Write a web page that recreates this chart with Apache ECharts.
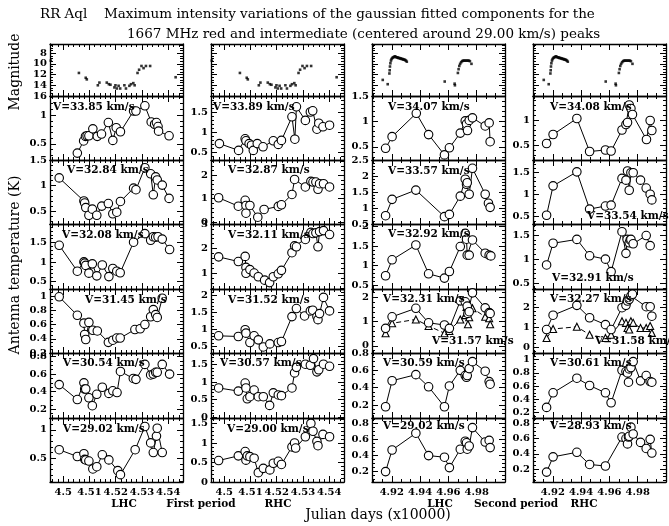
<!DOCTYPE html>
<html>
<head>
<meta charset="utf-8">
<script src="https://cdn.jsdelivr.net/npm/echarts@6/dist/echarts.min.js"></script>
<style>
  html, body { margin: 0; padding: 0; background: #fff; }
  #chart { width: 669px; height: 526px; }
</style>
</head>
<body>
<div id="chart"></div>
<script>
// ---- Tick labels ----
const firstPeriodTicks = [4.5, 4.51, 4.52, 4.53, 4.54];
const secondPeriodTicks = [4.92, 4.94, 4.96, 4.98];
const magTicks = [8, 10, 12, 14, 16];

// ---- Visual light curve (magnitude vs JD/10000) ----
const magFirst = [[4.4953,9.4],[4.506,11.7],[4.5086,12.6],[4.509,12.9],[4.5132,14.0],[4.5138,13.5],[4.5166,13.5],[4.5174,13.8],[4.518,13.9],[4.5195,14.4],[4.5199,14.0],[4.5204,14.6],[4.5211,14.1],[4.5217,14.6],[4.5233,14.0],[4.5239,14.6],[4.5252,14.1],[4.5258,13.8],[4.5267,13.6],[4.5272,14.0],[4.5283,11.7],[4.5289,11.1],[4.5298,10.4],[4.5306,10.8],[4.5315,10.4],[4.5331,10.4],[4.5428,12.5]];
const magSecond = [[4.9136,13.0],[4.9171,13.8],[4.9183,11.8],[4.9185,11.2],[4.9187,10.5],[4.919,9.9],[4.9194,9.4],[4.9198,9.1],[4.9204,8.9],[4.921,8.8],[4.9216,8.7],[4.9222,8.6],[4.9228,8.7],[4.9234,8.8],[4.924,8.8],[4.9246,8.9],[4.9252,8.9],[4.9258,9.0],[4.9264,9.0],[4.927,9.1],[4.9276,9.1],[4.9282,9.2],[4.9288,9.2],[4.9294,9.3],[4.93,9.4],[4.9306,9.6],[4.9574,13.3],[4.9644,13.7],[4.9646,14.0],[4.9667,11.7],[4.9672,11.0],[4.9677,10.4],[4.9683,10.0],[4.969,9.7],[4.9697,9.5],[4.9704,9.4],[4.9712,9.4],[4.972,9.4],[4.9728,9.4],[4.9736,9.4],[4.9744,9.4],[4.9752,9.5],[4.9763,10.0]];

// ---- Antenna temperature (K) of each gaussian component ----
const firstLhc_3385 = [[4.5054,0.34],[4.5078,0.55],[4.5085,0.63],[4.5091,0.64],[4.5098,0.64],[4.5113,0.76],[4.513,0.63],[4.5146,0.67],[4.5172,0.87],[4.5189,0.56],[4.5202,0.78],[4.5218,0.71],[4.5268,1.07],[4.5277,1.07],[4.5311,1.16],[4.5335,0.88],[4.5348,0.84],[4.5355,0.87],[4.5361,0.80],[4.5363,0.72],[4.5403,0.64]];
const firstRhc_3389 = [[4.4982,0.71],[4.5055,0.54],[4.508,0.83],[4.5083,0.78],[4.5095,0.71],[4.5104,0.67],[4.5111,0.54],[4.5126,0.71],[4.5148,0.63],[4.5187,0.78],[4.5206,0.69],[4.5218,0.79],[4.5258,1.38],[4.5269,0.82],[4.5275,1.63],[4.5309,1.29],[4.5328,1.50],[4.5337,1.53],[4.5353,1.07],[4.536,1.22],[4.5376,1.13],[4.5401,1.17]];
const secondLhc_3407 = [[4.9156,0.47],[4.9202,0.70],[4.9373,1.16],[4.946,0.74],[4.9572,0.34],[4.9607,0.48],[4.9684,0.77],[4.9719,1.01],[4.9728,0.95],[4.9735,0.82],[4.9747,1.02],[4.977,1.07],[4.986,0.91],[4.9888,0.97],[4.9895,0.60]];
const secondRhc_3408 = [[4.9156,0.53],[4.9202,0.71],[4.937,1.03],[4.946,0.37],[4.9572,0.40],[4.9612,0.38],[4.9689,0.80],[4.9717,0.91],[4.9728,0.95],[4.974,1.30],[4.9752,1.23],[4.9763,1.11],[4.9862,0.61],[4.9888,0.99],[4.99,0.79]];

const firstLhc_3284 = [[4.4985,1.15],[4.5079,0.70],[4.5082,0.66],[4.5086,0.57],[4.5098,0.42],[4.5111,0.54],[4.5128,0.42],[4.5147,0.60],[4.5172,0.65],[4.5189,0.45],[4.5204,0.48],[4.5218,0.69],[4.5268,0.95],[4.5277,0.92],[4.5311,1.35],[4.5333,1.23],[4.5343,0.82],[4.5352,1.17],[4.5358,1.11],[4.5377,1.01],[4.5403,0.75]];
const firstRhc_3287 = [[4.4979,1.04],[4.5054,0.68],[4.508,0.93],[4.5083,0.71],[4.5083,0.38],[4.5098,0.71],[4.5128,0.21],[4.5152,0.54],[4.5206,0.67],[4.5218,0.74],[4.5258,1.18],[4.5268,1.82],[4.5309,1.50],[4.533,1.74],[4.5338,1.71],[4.5349,1.71],[4.5357,1.40],[4.5363,1.64],[4.5378,1.64],[4.5401,1.50]];
const secondLhc_3357 = [[4.9156,0.76],[4.9202,1.27],[4.937,1.56],[4.9572,0.73],[4.9607,0.80],[4.9684,1.37],[4.9719,1.90],[4.9728,1.74],[4.9733,1.79],[4.9747,1.43],[4.977,2.24],[4.986,1.43],[4.9883,1.15],[4.9895,1.02]];
const secondRhc_3354 = [[4.9156,0.53],[4.9202,1.20],[4.937,1.52],[4.946,0.67],[4.9572,0.74],[4.9612,0.76],[4.9689,1.37],[4.9717,1.33],[4.9728,1.54],[4.974,1.10],[4.9752,1.50],[4.9768,1.50],[4.982,1.33],[4.986,1.15],[4.9888,1.01],[4.99,0.88]];

const firstLhc_3208 = [[4.4985,1.43],[4.5054,0.76],[4.5079,1.0],[4.5082,0.97],[4.5086,0.91],[4.5098,0.71],[4.5111,0.95],[4.5128,0.64],[4.5149,0.92],[4.5174,0.62],[4.5189,0.83],[4.5204,0.76],[4.5217,0.72],[4.5268,1.51],[4.5311,1.73],[4.5333,1.56],[4.5343,1.65],[4.5352,1.64],[4.5361,1.65],[4.5377,1.59],[4.5405,1.32]];
const firstRhc_3211 = [[4.4979,1.66],[4.5054,1.47],[4.508,1.68],[4.5083,1.23],[4.5083,0.99],[4.5098,1.14],[4.5114,1.0],[4.513,0.85],[4.5154,0.71],[4.5173,0.61],[4.5187,0.85],[4.5206,0.97],[4.5218,1.11],[4.5258,1.83],[4.5268,2.11],[4.5275,2.07],[4.5309,2.37],[4.533,2.66],[4.5338,2.61],[4.5349,2.64],[4.5357,2.07],[4.5363,2.69],[4.5378,2.73],[4.5401,2.57]];
const secondLhc_3292 = [[4.9156,0.74],[4.9202,1.15],[4.937,1.53],[4.946,0.79],[4.9572,0.68],[4.9607,0.85],[4.9684,1.49],[4.9719,1.83],[4.9728,1.68],[4.9733,1.27],[4.9747,1.27],[4.977,1.66],[4.986,1.32],[4.9888,1.27],[4.99,1.25]];
const secondRhc_3291 = [[4.9156,0.88],[4.9202,1.33],[4.937,1.41],[4.946,1.07],[4.9572,1.0],[4.9612,0.74],[4.9689,1.57],[4.9717,1.12],[4.9725,1.41],[4.974,1.34],[4.9747,1.40],[4.9752,1.41],[4.9768,1.32],[4.986,1.49],[4.9888,1.28]];

const firstLhc_3145 = [[4.4985,0.99],[4.5054,0.73],[4.5079,0.62],[4.5082,0.46],[4.5086,0.39],[4.5098,0.63],[4.5113,0.52],[4.513,0.51],[4.5172,0.35],[4.5189,0.38],[4.5204,0.41],[4.5217,0.41],[4.5273,0.53],[4.5293,0.54],[4.5311,0.60],[4.5333,0.71],[4.5343,0.81],[4.5352,0.74],[4.5358,0.70],[4.5377,0.97]];
const firstRhc_3152 = [[4.4979,0.81],[4.5054,0.79],[4.508,0.99],[4.5083,0.89],[4.5098,0.61],[4.5114,0.81],[4.513,0.69],[4.5149,0.48],[4.5174,0.57],[4.5206,0.61],[4.5218,0.64],[4.5258,1.38],[4.5275,1.62],[4.5306,1.40],[4.5328,1.55],[4.5337,1.57],[4.5353,1.38],[4.5357,1.29],[4.5363,1.47],[4.5378,1.95],[4.5401,1.55]];
const secondLhc_3231 = [[4.9156,0.72],[4.9202,1.20],[4.937,1.55],[4.946,0.95],[4.9572,0.86],[4.9607,0.72],[4.9684,1.86],[4.9719,1.82],[4.9733,1.64],[4.9738,1.34],[4.9747,1.41],[4.977,2.19],[4.986,1.57],[4.9888,1.37],[4.9895,1.34]];
const secondLhc_3157 = [[4.9156,0.52],[4.9202,0.93],[4.937,1.09],[4.946,0.82],[4.9572,0.52],[4.9607,0.61],[4.9684,1.09],[4.9719,1.27],[4.9728,1.61],[4.9733,1.37],[4.9738,0.89],[4.9747,1.18],[4.977,1.55],[4.986,1.20],[4.9888,1.14],[4.9895,0.89]];
const secondRhc_3227 = [[4.9156,0.89],[4.9202,1.62],[4.937,2.12],[4.946,1.49],[4.9572,1.14],[4.9612,0.89],[4.9689,2.0],[4.9717,2.12],[4.9728,2.34],[4.974,2.43],[4.9752,2.6],[4.9763,2.68],[4.986,2.05],[4.9888,2.05],[4.99,1.57]];
const secondRhc_3158 = [[4.9156,0.46],[4.9202,0.92],[4.937,1.03],[4.946,0.63],[4.9572,0.46],[4.9612,0.63],[4.9689,1.31],[4.9717,1.23],[4.9728,0.97],[4.974,0.89],[4.9752,1.31],[4.9768,1.23],[4.982,0.97],[4.986,0.97],[4.9888,1.07],[4.99,0.72]];

const firstLhc_3054 = [[4.4985,0.48],[4.5054,0.31],[4.5079,0.50],[4.5082,0.43],[4.5086,0.43],[4.5098,0.33],[4.5111,0.24],[4.5128,0.37],[4.5149,0.45],[4.5174,0.38],[4.5189,0.41],[4.5205,0.39],[4.5218,0.63],[4.5267,0.55],[4.5277,0.54],[4.5311,0.71],[4.5333,0.59],[4.5343,0.60],[4.5352,0.62],[4.5358,0.62],[4.5377,0.71],[4.5405,0.60]];
const firstRhc_3057 = [[4.4979,0.83],[4.5054,0.74],[4.508,0.97],[4.5083,0.83],[4.5088,0.52],[4.5098,0.58],[4.5114,0.77],[4.513,0.58],[4.5149,0.58],[4.5173,0.33],[4.5187,0.69],[4.5206,0.63],[4.5218,0.61],[4.5258,0.83],[4.5268,1.26],[4.5275,1.42],[4.5309,1.51],[4.5328,1.48],[4.534,1.67],[4.5353,1.29],[4.536,1.35],[4.5378,1.51],[4.5401,1.45]];
const secondLhc_3059 = [[4.9156,0.18],[4.9202,0.48],[4.937,0.55],[4.946,0.41],[4.9572,0.18],[4.9607,0.42],[4.9684,0.60],[4.9719,0.54],[4.9728,0.52],[4.9733,0.54],[4.9747,0.62],[4.977,0.70],[4.986,0.59],[4.9888,0.47],[4.9895,0.44]];
const secondRhc_3061 = [[4.9156,0.28],[4.9202,0.50],[4.937,0.72],[4.946,0.61],[4.9572,0.50],[4.9612,0.35],[4.9689,0.84],[4.9717,0.82],[4.9728,0.80],[4.9735,0.66],[4.974,0.86],[4.9752,0.88],[4.9768,0.97],[4.982,0.68],[4.986,0.76],[4.9888,0.67],[4.99,0.66]];

const firstLhc_2902 = [[4.4985,0.65],[4.5054,0.53],[4.5079,0.58],[4.5082,0.48],[4.5086,0.47],[4.5098,0.45],[4.5113,0.31],[4.5128,0.35],[4.5149,0.56],[4.5174,0.47],[4.5208,0.28],[4.5218,0.21],[4.5274,0.65],[4.5311,1.06],[4.5333,0.77],[4.5343,0.60],[4.5355,0.89],[4.5358,1.03],[4.5377,0.60]];
const firstRhc_2900 = [[4.4979,0.55],[4.5054,0.67],[4.508,0.78],[4.5083,0.56],[4.5088,0.67],[4.5098,0.65],[4.5114,0.61],[4.513,0.24],[4.5149,0.35],[4.5174,0.31],[4.5187,0.48],[4.5206,0.53],[4.5218,0.45],[4.5258,0.90],[4.5268,1.0],[4.5272,0.87],[4.5309,1.16],[4.533,1.50],[4.5338,1.30],[4.5353,1.04],[4.5357,0.93],[4.5376,1.22],[4.5401,1.16]];
const secondLhc_2902 = [[4.9156,0.20],[4.9202,0.47],[4.937,0.68],[4.946,0.40],[4.9572,0.38],[4.9607,0.25],[4.9684,0.48],[4.9719,0.58],[4.9728,0.56],[4.9733,0.48],[4.9747,0.52],[4.977,0.75],[4.986,0.57],[4.9888,0.59],[4.9895,0.50]];
const secondRhc_2893 = [[4.9156,0.16],[4.9202,0.36],[4.937,0.42],[4.946,0.26],[4.9572,0.24],[4.9689,0.62],[4.9717,0.60],[4.9728,0.53],[4.9735,0.62],[4.974,0.63],[4.9752,0.75],[4.9768,0.66],[4.982,0.55],[4.986,0.47],[4.9888,0.59],[4.99,0.41]];

// ---- Layout ----
const FONT = '"DejaVu Serif", serif';
const colLeft = [50, 211, 372, 533];
const colWidth = 133;
const rowTop = [44, 96, 160, 224, 289, 353, 418];
const rowBottom = [96, 160, 224, 289, 353, 418, 482];

function seq(start, end, step) {
  const out = [];
  for (let i = 0; ; i++) {
    const v = start + i * step;
    if (v > end + 1e-9) break;
    out.push(+v.toFixed(5));
  }
  return out;
}
function within(vals, min, max) {
  return vals.filter(v => v >= min - 1e-9 && v <= max + 1e-9);
}
function fmt(v) { return String(+(+v).toFixed(3)); }

const xFirst = { min: 4.495, max: 4.5456, majors: firstPeriodTicks, minors: seq(4.496, 4.545, 0.002) };
const xSecond = { min: 4.906, max: 5.0, majors: secondPeriodTicks, minors: seq(4.92 - 2 * 0.02 / 3, 5.0, 0.02 / 3) };

function yScale(min, max, step, minorStep) {
  const k0 = Math.ceil((min - 1e-9) / step), k1 = Math.floor((max + 1e-9) / step);
  const majors = [];
  for (let k = k0; k <= k1; k++) majors.push(+(k * step).toFixed(4));
  const m0 = Math.ceil((min - 1e-9) / minorStep), m1 = Math.floor((max + 1e-9) / minorStep);
  const minors = [];
  for (let k = m0; k <= m1; k++) minors.push(+(k * minorStep).toFixed(4));
  return { min, max, majors, minors };
}
const minorOf = { 0.2: 0.05, 0.5: 0.1, 1: 0.2, 2: 0.5 };

// Panels: row, column, curves (circles first, triangles second), velocity tags
const panels = [
  { row: 1, col: 0, curves: [firstLhc_3385], y: [0.22, 1.33, 0.5], tags: [['V=33.85 km/s', 3, 11]] },
  { row: 1, col: 1, curves: [firstRhc_3389], y: [0.3, 1.9, 0.5], tags: [['V=33.89 km/s', 2, 11]] },
  { row: 1, col: 2, curves: [secondLhc_3407], y: [0.24, 1.5, 0.5], tags: [['V=34.07 km/s', 16, 11]] },
  { row: 1, col: 3, curves: [secondRhc_3408], y: [0.2, 1.48, 0.5], tags: [['V=34.08 km/s', 17, 11]] },

  { row: 2, col: 0, curves: [firstLhc_3284], y: [0.25, 1.5, 0.5], tags: [['V=32.84 km/s', 17, 10]] },
  { row: 2, col: 1, curves: [firstRhc_3287], y: [-0.08, 2.65, 1], tags: [['V=32.87 km/s', 17, 10]] },
  { row: 2, col: 2, curves: [secondLhc_3357], y: [0.5, 2.5, 0.5], tags: [['V=33.57 km/s', 16, 11]] },
  { row: 2, col: 3, curves: [secondRhc_3354], y: [0.33, 1.79, 0.5], tags: [['V=33.54 km/s', 54, 56]] },

  { row: 3, col: 0, curves: [firstLhc_3208], y: [0.3, 1.98, 0.5], tags: [['V=32.08 km/s', 12, 11]] },
  { row: 3, col: 1, curves: [firstRhc_3211], y: [0.35, 3.0, 1], tags: [['V=32.11 km/s', 17, 11]] },
  { row: 3, col: 2, curves: [secondLhc_3292], y: [0.4, 2.07, 0.5], tags: [['V=32.92 km/s', 16, 10]] },
  { row: 3, col: 3, curves: [secondRhc_3291], y: [0.38, 1.73, 0.5], tags: [['V=32.91 km/s', 19, 54]] },

  { row: 4, col: 0, curves: [firstLhc_3145], y: [0.2, 1.1, 0.2], tags: [['V=31.45 km/s', 35, 11]] },
  { row: 4, col: 1, curves: [firstRhc_3152], y: [0.3, 2.2, 0.5], tags: [['V=31.52 km/s', 17, 11]] },
  { row: 4, col: 2, curves: [secondLhc_3231, secondLhc_3157], y: [-0.3, 2.35, 1], tags: [['V=32.31 km/s', 11, 10], ['V=31.57 km/s', 60, 52]] },
  { row: 4, col: 3, curves: [secondRhc_3227, secondRhc_3158], y: [-0.3, 2.95, 1], tags: [['V=32.27 km/s', 17, 10], ['V=31.58 km/s', 62, 52]] },

  { row: 5, col: 0, curves: [firstLhc_3054], y: [0.1, 0.84, 0.2], tags: [['V=30.54 km/s', 13, 10]] },
  { row: 5, col: 1, curves: [firstRhc_3057], y: [-0.03, 1.83, 0.5], tags: [['V=30.57 km/s', 9, 10]] },
  { row: 5, col: 2, curves: [secondLhc_3059], y: [0.05, 0.8, 0.2], tags: [['V=30.59 km/s', 11, 10]] },
  { row: 5, col: 3, curves: [secondRhc_3061], y: [0.12, 1.1, 0.2], tags: [['V=30.61 km/s', 17, 10]] },

  { row: 6, col: 0, curves: [firstLhc_2902], y: [0.08, 1.21, 0.5], tags: [['V=29.02 km/s', 13, 11]] },
  { row: 6, col: 1, curves: [firstRhc_2900], y: [0, 1.64, 0.5], tags: [['V=29.00 km/s', 16, 11]] },
  { row: 6, col: 2, curves: [secondLhc_2902], y: [0.07, 0.87, 0.2], tags: [['V=29.02 km/s', 11, 8]] },
  { row: 6, col: 3, curves: [secondRhc_2893], y: [0.03, 0.87, 0.2], tags: [['V=28.93 km/s', 17, 8]] }
];

const grids = [], xAxes = [], yAxes = [], series = [], graphics = [];

function axisPair(dim, pos, gi, scale, showLabels, inverse) {
  const base = {
    type: 'value', gridIndex: gi, position: pos, min: scale.min, max: scale.max,
    inverse: !!inverse, splitLine: { show: false }, splitArea: { show: false }
  };
  const major = Object.assign({}, base, {
    axisLine: { show: true, onZero: false, lineStyle: { color: '#000', width: 1.3 } },
    axisTick: { show: true, inside: true, length: 6, customValues: scale.majors, lineStyle: { color: '#000', width: 1 } },
    axisLabel: {
      show: showLabels, customValues: scale.majors, formatter: fmt,
      fontFamily: FONT, fontWeight: 'bold', fontSize: 10, color: '#000',
      margin: dim === 'x' ? 5 : 3
    }
  });
  const minor = Object.assign({}, base, {
    axisLine: { show: false, onZero: false },
    axisTick: { show: true, inside: true, length: 3, customValues: scale.minors, lineStyle: { color: '#000', width: 1 } },
    axisLabel: { show: false }
  });
  return [major, minor];
}

function addPanel(row, col, xs, ys, showX, showY, inverseY) {
  const gi = grids.length;
  grids.push({
    left: colLeft[col], top: rowTop[row], width: colWidth, height: rowBottom[row] - rowTop[row],
    containLabel: false, outerBoundsMode: 'none', show: false
  });
  const xi = xAxes.length;
  xAxes.push(...axisPair('x', 'bottom', gi, xs, showX), ...axisPair('x', 'top', gi, xs, false));
  const yi = yAxes.length;
  yAxes.push(...axisPair('y', 'left', gi, ys, showY, inverseY), ...axisPair('y', 'right', gi, ys, false, inverseY));
  return { xi, yi };
}

// Magnitude row
[0, 1, 2, 3].forEach(col => {
  const xs = col < 2 ? xFirst : xSecond;
  const ms = { min: 6.3, max: 16, majors: magTicks, minors: seq(6.5, 16, 0.5) };
  const { xi, yi } = addPanel(0, col, xs, ms, false, col === 0, true);
  series.push({
    type: 'scatter', xAxisIndex: xi, yAxisIndex: yi,
    data: col < 2 ? magFirst : magSecond,
    symbol: 'rect', symbolSize: 2.6, itemStyle: { color: '#000' }, silent: true
  });
});

// Antenna temperature rows
panels.forEach(p => {
  const xs = p.col < 2 ? xFirst : xSecond;
  const ys = yScale(p.y[0], p.y[1], p.y[2], minorOf[p.y[2]]);
  const { xi, yi } = addPanel(p.row, p.col, xs, ys, p.row === 6, true, false);
  p.curves.forEach((data, k) => {
    const tri = k === 1;
    series.push({
      type: 'line', xAxisIndex: xi, yAxisIndex: yi, data,
      symbol: tri ? 'triangle' : 'circle', symbolSize: tri ? 7 : 8.5,
      showSymbol: true, silent: true, z: tri ? 3 : 4,
      itemStyle: { color: '#fff', borderColor: '#000', borderWidth: 1.1 },
      lineStyle: { color: '#000', width: 1, type: tri ? [5, 3] : 'solid' }
    });
  });
  p.tags.forEach(([text, dx, dy]) => {
    graphics.push({
      type: 'text', x: colLeft[p.col] + dx, y: rowTop[p.row] + dy, z: 10,
      style: { text, font: 'bold 10.5px ' + FONT, fill: '#000', textAlign: 'left', textVerticalAlign: 'middle' }
    });
  });
});

// Titles and axis captions
function caption(text, x, y, font, align, rot) {
  graphics.push({
    type: 'text', x, y, rotation: rot || 0, z: 10,
    style: { text, font, fill: '#000', textAlign: align || 'left', textVerticalAlign: 'middle' }
  });
}
const titleFont = '13.5px ' + FONT;
caption('RR Aql', 40, 14, titleFont);
caption('Maximum intensity variations of the gaussian fitted components for the', 104, 14, titleFont);
caption('1667 MHz red and intermediate (centered around 29.00 km/s) peaks', 127, 34, titleFont);
caption('Magnitude', 15, 72, '14px ' + FONT, 'center', Math.PI / 2);
caption('Antenna temperature (K)', 15, 265, '14px ' + FONT, 'center', Math.PI / 2);
caption('Julian days (x10000)', 378, 515, '14px ' + FONT, 'center');
const subFont = 'bold 10.5px ' + FONT;
caption('LHC', 124, 504, subFont, 'center');
caption('First period', 201, 504, subFont, 'center');
caption('RHC', 278, 504, subFont, 'center');
caption('LHC', 440, 504, subFont, 'center');
caption('Second period', 516, 504, subFont, 'center');
caption('RHC', 584, 504, subFont, 'center');

const chart = echarts.init(document.getElementById('chart'), null, { renderer: 'canvas' });
chart.setOption({
  backgroundColor: '#fff',
  animation: false,
  grid: grids,
  xAxis: xAxes,
  yAxis: yAxes,
  series,
  graphic: { elements: graphics }
});
</script>
</body>
</html>
